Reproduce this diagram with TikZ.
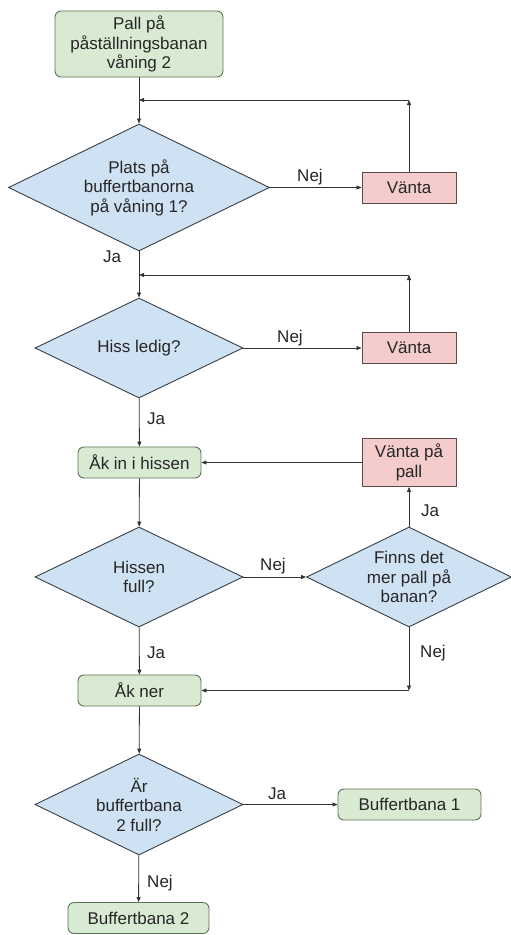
\documentclass[tikz,border=0pt]{standalone}
\usepackage{fontspec}
\setmainfont{Liberation Sans}
\usetikzlibrary{shapes.geometric,arrows.meta}
\definecolor{okfill}{HTML}{D9EAD3}
\definecolor{okline}{HTML}{5E7356}
\definecolor{askfill}{HTML}{CFE2F3}
\definecolor{askline}{HTML}{3A3F45}
\definecolor{waitfill}{HTML}{F4CCCC}
\definecolor{waitline}{HTML}{5A4A4A}
\definecolor{wire}{HTML}{333333}
\tikzset{
  every node/.style={font=\fontsize{17}{19.5}\selectfont, text=black!85},
  action/.style={draw=okline, fill=okfill, line width=0.9pt, rounded corners=6pt,
    inner sep=0pt, align=center},
  question/.style={diamond, draw=askline, fill=askfill, line width=0.9pt,
    inner sep=0pt, align=center, aspect=2},
  waitbox/.style={draw=waitline, fill=waitfill, line width=0.9pt,
    inner sep=0pt, align=center},
  flow/.style={draw=wire, line width=0.8pt, -{Triangle[length=5pt,width=4pt]}},
  answer/.style={inner sep=0pt}
}
\begin{document}
\begin{tikzpicture}[x=1pt, y=-1pt]
  \useasboundingbox (0,0) rectangle (511,935);

  % boxes and decisions
  \node[action, minimum width=168pt, minimum height=66pt] (start) at (139,44)
    {Pall på\\påställningsbanan\\våning 2};
  \node[question, minimum width=261pt, minimum height=127pt] (d1) at (139,187.5)
    {Plats på\\buffertbanorna\\på våning 1?};
  \node[waitbox, minimum width=94pt, minimum height=31pt] (w1) at (409,187.5) {Vänta};

  \node[question, minimum width=208pt, minimum height=100pt] (d2) at (139,348)
    {Hiss ledig?};
  \node[waitbox, minimum width=94pt, minimum height=31pt] (w2) at (409,348) {Vänta};

  \node[action, minimum width=123pt, minimum height=31pt] (akin) at (139.5,462.5)
    {Åk in i hissen};
  \node[waitbox, minimum width=94pt, minimum height=48pt] (wpall) at (409,462.5)
    {Vänta på\\pall};

  \node[question, minimum width=208pt, minimum height=100pt] (d3) at (139,577)
    {Hissen\\full?};
  \node[question, minimum width=205pt, minimum height=100pt] (d4) at (409,577)
    {Finns det\\mer pall på\\banan?};

  \node[action, minimum width=123pt, minimum height=31pt] (akner) at (139.5,690.5)
    {Åk ner};

  \node[question, minimum width=208pt, minimum height=101pt] (d5) at (139,804.5)
    {Är\\buffertbana\\2 full?};
  \node[action, minimum width=143pt, minimum height=31pt] (b1) at (409.5,804.5)
    {Buffertbana 1};
  \node[action, minimum width=141pt, minimum height=31pt] (b2) at (138.5,918)
    {Buffertbana 2};

  % corner points of the return paths
  \coordinate (r1) at (409,100);
  \coordinate (r1in) at (139,100);
  \coordinate (r2) at (409,275);
  \coordinate (r2in) at (139,275);
  \coordinate (r3) at (409,690.5);

  % main flow
  \draw[flow] (start) -- (d1);
  \draw[flow] (d1) -- (d2);
  \draw[flow] (d2) -- (akin);
  \draw[flow] (akin) -- (d3);
  \draw[flow] (akner) -- (d5);
  \draw[flow] (d5) -- (b2);
  \draw[flow] (d3) -- (akner);

  % branches
  \draw[flow] (d1.east) -- (w1.west);
  \draw[flow] (w1.north) -- (r1);
  \draw[flow] (r1) -- (r1in);
  \draw[flow] (d2.east) -- (w2.west);
  \draw[flow] (w2.north) -- (r2);
  \draw[flow] (r2) -- (r2in);
  \draw[flow] (d3.east) -- (d4.west);
  \draw[flow] (d4.north) -- (wpall.south);
  \draw[flow] (wpall.west) -- (akin.east);
  \draw[flow] (d4.south) -- (r3);
  \draw[flow] (r3) -- (akner.east);
  \draw[flow] (d5.east) -- (b1.west);

  % answer labels
  \node[answer] (l1) at (310,177) {Nej};
  \node[answer] (l2) at (112,257) {Ja};
  \node[answer] (l3) at (290,338) {Nej};
  \node[answer] (l4) at (156,419) {Ja};
  \node[answer] (l5) at (273,566) {Nej};
  \node[answer] (l6) at (430,511) {Ja};
  \node[answer] (l7) at (433,653) {Nej};
  \node[answer] (l8) at (156,653) {Ja};
  \node[answer] (l9) at (277,794) {Ja};
  \node[answer] (l10) at (160,883) {Nej};
\end{tikzpicture}
\end{document}
